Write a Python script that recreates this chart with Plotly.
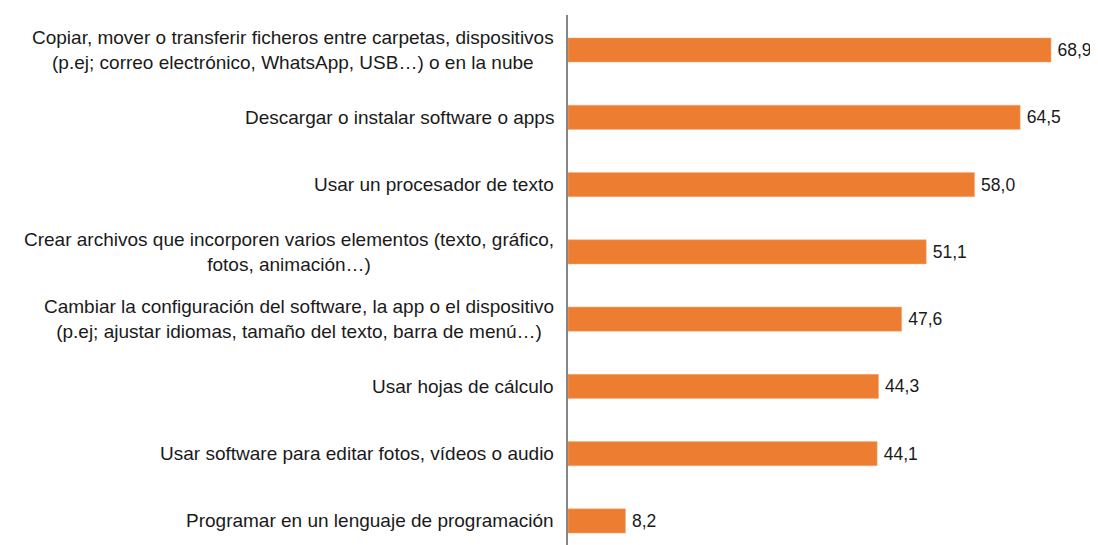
import plotly.graph_objects as go

categories = [
    "Copiar, mover o transferir ficheros entre carpetas, dispositivos<br>(p.ej; correo electrónico, WhatsApp, USB…) o en la nube",
    "Descargar o instalar software o apps",
    "Usar un procesador de texto",
    "Crear archivos que incorporen varios elementos (texto, gráfico,<br>fotos, animación…)",
    "Cambiar la configuración del software, la app o el dispositivo<br>(p.ej; ajustar idiomas, tamaño del texto, barra de menú…)",
    "Usar hojas de cálculo",
    "Usar software para editar fotos, vídeos o audio",
    "Programar en un lenguaje de programación",
]
values = [68.9, 64.5, 58.0, 51.1, 47.6, 44.3, 44.1, 8.2]

ids = [f"c{i}" for i in range(len(categories))]

fig = go.Figure(go.Bar(
    x=values, y=ids, orientation="h",
    marker=dict(color="#ED7D31", line=dict(color="#F4B183", width=0.5)),
    width=0.36,
    texttemplate="\u2009%{x:.1f}", textposition="outside",
    textfont=dict(family="Liberation Sans, Arial", size=17.5, color="#1a1a1a"),
    constraintext="none", cliponaxis=False,
))

for cid, lab in zip(ids, categories):
    fig.add_annotation(
        x=0, xref="paper", y=cid, yref="y", text=lab, showarrow=False,
        xanchor="right", align="center", xshift=-12,
        font=dict(family="Liberation Sans, Arial", size=19, color="#1a1a1a"),
    )

fig.update_layout(
    width=1090, height=537,
    margin=dict(l=560, r=0, t=7, b=0),
    plot_bgcolor="white", paper_bgcolor="white",
    separators=",.",
    showlegend=False,
    xaxis=dict(range=[0, 75.6], visible=False),
    yaxis=dict(categoryorder="array", categoryarray=ids,
               range=[7.357, -0.52], showticklabels=False,
               showline=True, linecolor="#868686", linewidth=1.5,
               showgrid=False, zeroline=False, ticks=""),
)

fig.write_html("out.html")
